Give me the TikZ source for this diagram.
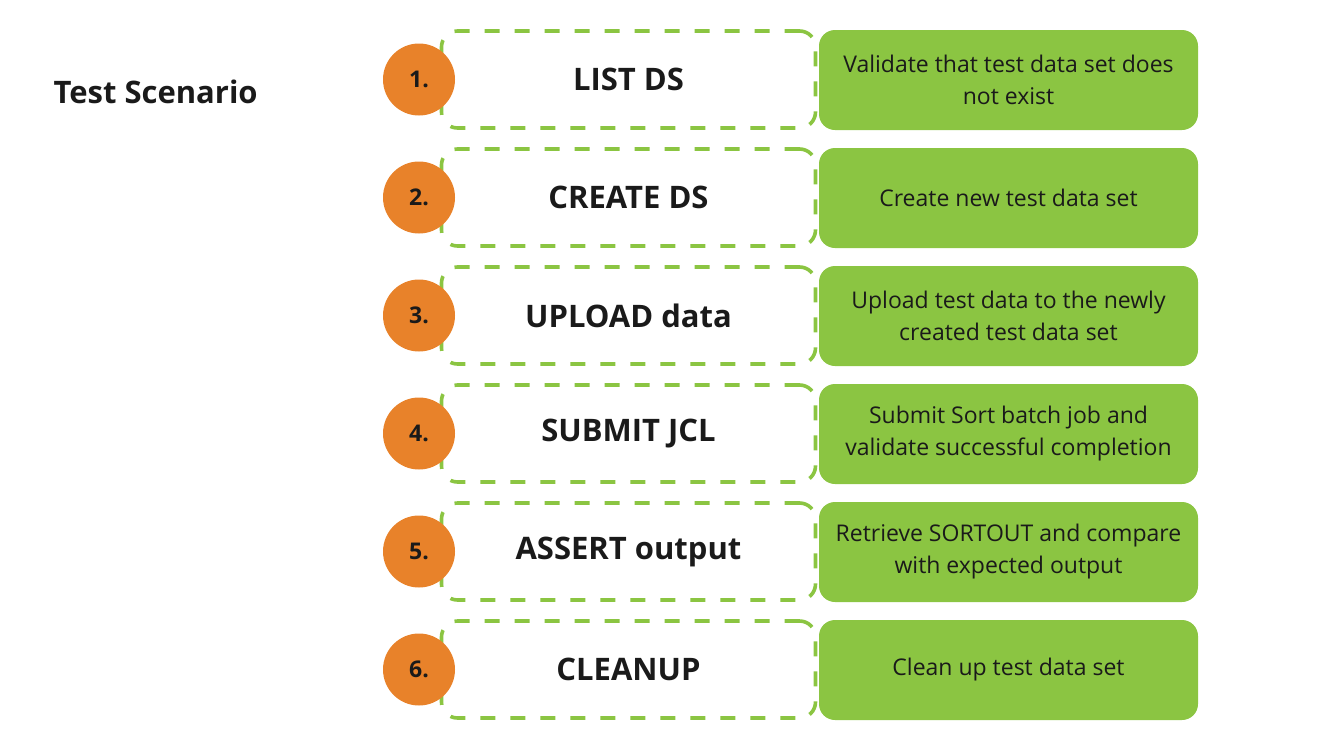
\documentclass[tikz,border=0pt]{standalone}
\usepackage{fontspec}
\setmainfont{Open Sans}
\definecolor{stepgreen}{HTML}{8BC542}
\definecolor{steporange}{HTML}{E8822A}
\definecolor{txt}{HTML}{1A1A1A}
\begin{document}
\begin{tikzpicture}[x=1pt,y=-1pt,
  dashbox/.style={draw=stepgreen,line width=3.6pt,dash pattern=on 15pt off 15pt,rounded corners=16pt,minimum width=374pt,minimum height=97pt,inner sep=0pt},
  descbox/.style={fill=stepgreen,rounded corners=16pt,minimum width=379pt,minimum height=100pt,inner sep=0pt,text=txt,align=center,font=\fontsize{23}{32}\selectfont},
  numcirc/.style={circle,fill=steporange,minimum size=72pt,inner sep=0pt,text=txt,font=\bfseries\fontsize{23}{26}\selectfont},
  steplabel/.style={text=txt,font=\bfseries\fontsize{31}{36}\selectfont},
  titlelabel/.style={text=txt,font=\bfseries\fontsize{31}{36}\selectfont,anchor=west}]
\useasboundingbox (0,0) rectangle (1333,750);
\node[titlelabel] (title) at (50,92) {Test Scenario};
\foreach \i/\lab/\desc in {0/LIST DS/{Validate that test data set does\\not exist},
  1/CREATE DS/{Create new test data set},
  2/UPLOAD data/{Upload test data to the newly\\created test data set},
  3/SUBMIT JCL/{Submit Sort batch job and\\validate successful completion},
  4/ASSERT output/{Retrieve SORTOUT and compare\\with expected output},
  5/CLEANUP/{Clean up test data set}}{
  \pgfmathsetmacro{\cy}{79.5+118*\i}
  \node[dashbox] (frame\i) at (628.5,\cy) {};
  \node[descbox] (desc\i) at (1008.5,\cy+0.5) {\desc};
  \node[numcirc] (num\i) at (419,\cy) {\the\numexpr\i+1\relax.};
  \node[steplabel] (step\i) at (frame\i.center) {\lab};
}
\end{tikzpicture}
\end{document}
